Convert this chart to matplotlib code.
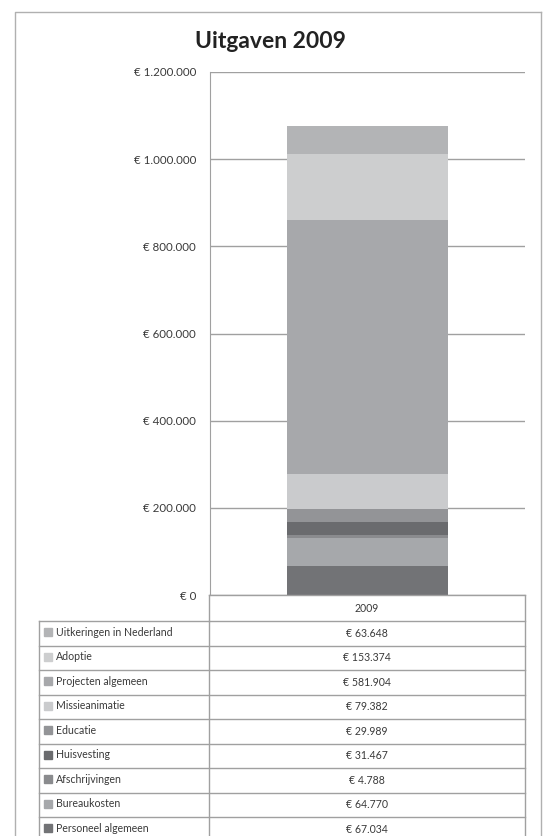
import matplotlib
matplotlib.use("Agg")
import matplotlib.pyplot as plt
from matplotlib.patches import Rectangle

plt.rcParams['font.family'] = ['Lato', 'DejaVu Sans']

# data, bottom of the stack first
categories = ["Personeel algemeen", "Bureaukosten", "Afschrijvingen", "Huisvesting",
              "Educatie", "Missieanimatie", "Projecten algemeen", "Adoptie",
              "Uitkeringen in Nederland"]
values = [67034, 64770, 4788, 31467, 29989, 79382, 581904, 153374, 63648]
colors = ["#727376", "#a6a8ab", "#8a8b8e", "#6a6b6e", "#939497",
          "#cacbcd", "#a7a8ab", "#cdcecf", "#b3b4b6"]
year = "2009"
y_ticks = [0, 200000, 400000, 600000, 800000, 1000000, 1200000]


def euro(v):
    return "€ " + f"{v:,}".replace(",", ".")


W, H = 547, 836
fig = plt.figure(figsize=(W / 100, H / 100), dpi=100)
line_col = "#a0a0a0"
text_col = "#3a3a3a"

# plot area in pixels
px_l, px_r, px_t, px_b = 210, 525, 72, 595
ax = fig.add_axes([px_l / W, 1 - px_b / H, (px_r - px_l) / W, (px_b - px_t) / H])

bottom = 0
for cat, v, c in zip(categories, values, colors):
    ax.bar(0, v, width=0.508, bottom=bottom, color=c, edgecolor="none", zorder=3)
    bottom += v

ax.set_xlim(-0.5, 0.5)
ax.set_ylim(0, 1200000)
ax.set_yticks(y_ticks)
ax.set_yticklabels([euro(t) for t in y_ticks], fontsize=8.3, color=text_col)
ax.set_xticks([])
ax.tick_params(axis="y", length=0, pad=10)
ax.grid(axis="y", color=line_col, linewidth=1, zorder=0)
for s in ["top", "right", "bottom"]:
    ax.spines[s].set_visible(False)
ax.spines["left"].set_color(line_col)

# overlay in pixel coordinates for frame, title and data table
ov2 = fig.add_axes([0, 0, 1, 1], zorder=5)
ov2.set_xlim(0, W)
ov2.set_ylim(H, 0)
ov2.axis("off")
ov2.patch.set_alpha(0)

# outer chart frame
ov2.plot([15, 541, 541], [850, 850, 12], color="#b0b0b0", lw=1)
ov2.plot([15, 15, 541], [850, 12, 12], color="#b0b0b0", lw=1)

ov2.text(W / 2 - 3, 42, "Uitgaven 2009", ha="center", va="center",
         fontsize=16.5, fontweight="bold", color="#222222")

# table
tl, tm, tr = 39, 209, 525
head_t, head_b = 595, 621
row_h = 24.5
n = len(categories)
rows_top = [head_b + i * row_h for i in range(n)]
bottom_y = head_b + n * row_h

ov2.plot([tm, tr], [head_t, head_t], color=line_col, lw=1)
ov2.plot([tm, tr], [head_b, head_b], color=line_col, lw=1)
ov2.plot([tl, tm], [head_b, head_b], color=line_col, lw=1)
ov2.plot([tm, tm], [head_t, bottom_y], color=line_col, lw=1)
ov2.plot([tr, tr], [head_t, bottom_y], color=line_col, lw=1)
ov2.plot([tl, tl], [head_b, bottom_y], color=line_col, lw=1)
ov2.text((tm + tr) / 2, (head_t + head_b) / 2 + 1, year, ha="center", va="center",
         fontsize=7.6, color=text_col)

# table rows, top of the stack first
for i, (cat, v, c) in enumerate(zip(categories[::-1], values[::-1], colors[::-1])):
    yt = rows_top[i]
    ov2.plot([tl, tr], [yt + row_h, yt + row_h], color=line_col, lw=1)
    yc = yt + row_h / 2
    ov2.add_patch(Rectangle((44, yc - 5), 8, 8, color=c))
    ov2.text(56, yc - 1, cat, ha="left", va="center", fontsize=7.6, color=text_col)
    ov2.text((tm + tr) / 2, yc, euro(v), ha="center", va="center",
             fontsize=7.6, color=text_col)

fig.savefig("out.png", dpi=100)
